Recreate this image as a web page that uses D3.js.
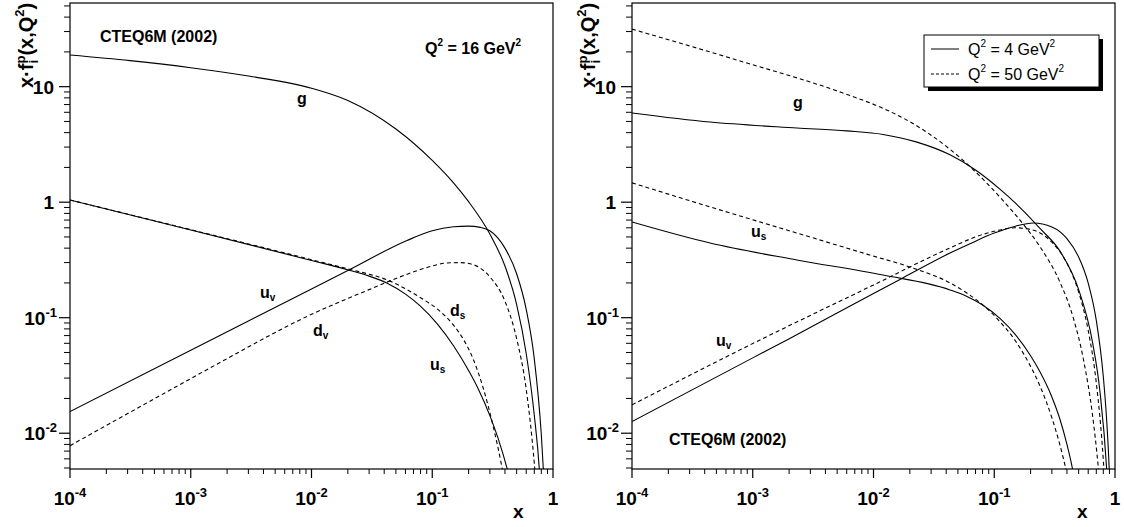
<!DOCTYPE html>
<html><head><meta charset="utf-8">
<script src="https://cdn.jsdelivr.net/npm/d3@7"></script>
<style>
body{margin:0;background:#fff}
svg{display:block}
text{font-family:"Liberation Sans",Arial,Helvetica,sans-serif;fill:#000}
</style>
</head><body>
<svg id="chart" width="1124" height="527"></svg>
<script>
// ---------- data ----------
const xDomain = [1e-4, 1];
const yDomain = [0.0049, 53];
const xMajorTicks = [1e-4, 1e-3, 1e-2, 1e-1, 1];
const xTickBase = ["10", "10", "10", "10", "1"];
const xTickExp  = ["-4", "-3", "-2", "-1", ""];
const yMajorTicks = [0.01, 0.1, 1, 10];
const yTickBase = ["10", "10", "1", "10"];
const yTickExp  = ["-2", "-1", "", ""];

// Left panel, Q^2 = 16 GeV^2
const xG16  = [1e-4, 3.14e-4, 1e-3, 3.1e-3, 0.01, 0.02, 0.05, 0.1, 0.15, 0.2, 0.3, 0.4, 0.5, 0.6, 0.7, 0.77, 0.8];
const g16   = [18.8, 16.8, 14.6, 12.3, 9.7, 7.6, 4.3, 2.30, 1.47, 1.01, 0.53, 0.28, 0.130, 0.049, 0.0143, 0.0049, 0.0024];
const xUv16 = [1e-4, 1e-3, 0.01, 0.02, 0.0618, 0.1, 0.15, 0.2, 0.25, 0.3, 0.4, 0.5, 0.6, 0.7, 0.8, 0.85];
const uv16  = [0.0154, 0.0522, 0.177, 0.256, 0.466, 0.565, 0.612, 0.621, 0.605, 0.565, 0.40, 0.24, 0.118, 0.044, 0.0098, 0.0033];
const xDv16 = [1e-4, 1e-3, 1.75e-3, 0.01, 0.03, 0.06, 0.1, 0.13, 0.17, 0.2, 0.3, 0.4, 0.5, 0.6, 0.7, 0.75];
const dv16  = [0.0078, 0.0297, 0.041, 0.107, 0.175, 0.235, 0.28, 0.297, 0.30, 0.295, 0.226, 0.139, 0.066, 0.024, 0.0055, 0.0022];
const xUs16 = [1e-4, 1e-3, 0.01, 0.0202, 0.03, 0.042, 0.06, 0.079, 0.11, 0.149, 0.2, 0.239, 0.3, 0.35, 0.42, 0.45];
const us16  = [1.045, 0.575, 0.313, 0.259, 0.229, 0.200, 0.160, 0.127, 0.0883, 0.0577, 0.0349, 0.0245, 0.0142, 0.0091, 0.0048, 0.0036];
const xDs16 = [1e-4, 1e-3, 0.01, 0.0202, 0.03, 0.042, 0.06, 0.08, 0.109, 0.149, 0.18, 0.218, 0.263, 0.32, 0.371, 0.4];
const ds16  = [1.045, 0.578, 0.318, 0.264, 0.238, 0.213, 0.178, 0.149, 0.120, 0.087, 0.0656, 0.044, 0.025, 0.0114, 0.0056, 0.0037];

// Right panel, Q^2 = 4 GeV^2 (solid) and 50 GeV^2 (dashed)
const xG4   = [1e-4, 4.43e-4, 2.32e-3, 0.006, 0.012, 0.0229, 0.043, 0.07, 0.112, 0.17, 0.239, 0.35, 0.5, 0.65, 0.75, 0.853, 0.88];
const g4    = [5.92, 4.94, 4.39, 4.14, 3.86, 3.31, 2.57, 1.90, 1.29, 0.863, 0.593, 0.377, 0.175, 0.062, 0.0231, 0.0049, 0.0027];
const xG50  = [1e-4, 7.41e-4, 5.58e-3, 0.012, 0.02, 0.043, 0.07, 0.112, 0.17, 0.239, 0.35, 0.45, 0.55, 0.65, 0.728, 0.76];
const g50   = [31.5, 17.0, 8.81, 6.49, 4.97, 2.87, 1.83, 1.10, 0.664, 0.412, 0.203, 0.1007, 0.0426, 0.0146, 0.0050, 0.0030];
const xUs4  = [1e-4, 4.43e-4, 2.32e-3, 0.012, 0.043, 0.06, 0.079, 0.112, 0.149, 0.2, 0.239, 0.3, 0.35, 0.4, 0.44, 0.46];
const us4   = [0.674, 0.443, 0.316, 0.234, 0.174, 0.152, 0.130, 0.098, 0.0717, 0.0468, 0.034, 0.0206, 0.0132, 0.0080, 0.0052, 0.0041];
const xUs50 = [1e-4, 4.43e-4, 2.03e-3, 9.3e-3, 0.0199, 0.043, 0.06, 0.079, 0.112, 0.149, 0.2, 0.239, 0.3, 0.35, 0.4];
const us50  = [1.47, 0.91, 0.564, 0.349, 0.275, 0.20, 0.162, 0.131, 0.092, 0.0635, 0.0379, 0.0257, 0.0136, 0.0079, 0.0045];
const xUv4  = [1e-4, 1e-3, 1.92e-3, 0.01, 0.0175, 0.043, 0.07, 0.1, 0.15, 0.21, 0.3, 0.4, 0.5, 0.6, 0.7, 0.8, 0.85, 0.89, 0.9];
const uv4   = [0.0126, 0.0449, 0.0642, 0.162, 0.221, 0.363, 0.46, 0.54, 0.62, 0.66, 0.61, 0.484, 0.335, 0.199, 0.0948, 0.031, 0.0138, 0.0057, 0.0043];
const xUv50 = [1e-4, 1.15e-3, 0.01, 0.043, 0.07, 0.1, 0.15, 0.2, 0.3, 0.4, 0.5, 0.6, 0.7, 0.8, 0.83];
const uv50  = [0.0176, 0.0642, 0.192, 0.402, 0.50, 0.56, 0.60, 0.58, 0.45, 0.296, 0.167, 0.0775, 0.0273, 0.0059, 0.0032];

const legendLabels = ["4", "50"];

// ---------- drawing ----------
const svg = d3.select("#chart");
const yTop = 3, yBot = 469;
const y = d3.scaleLog().domain(yDomain).range([yBot, yTop]);
const zip = (xs, ys) => xs.map((v, i) => [v, ys[i]]);

const panels = [
  { x0: 70, x1: 553, xTitle: 513, curves: [
      {d: zip(xG16, g16)}, {d: zip(xUv16, uv16)}, {d: zip(xDv16, dv16), dash: true},
      {d: zip(xUs16, us16)}, {d: zip(xDs16, ds16), dash: true}],
    labels: [
      {t: "g", s: "", x: 297, y: 104},
      {t: "u", s: "v", x: 260, y: 298},
      {t: "d", s: "v", x: 313, y: 336},
      {t: "d", s: "s", x: 450, y: 316},
      {t: "u", s: "s", x: 430, y: 370}] },
  { x0: 632, x1: 1115, xTitle: 1077, curves: [
      {d: zip(xG4, g4)}, {d: zip(xG50, g50), dash: true},
      {d: zip(xUs4, us4)}, {d: zip(xUs50, us50), dash: true},
      {d: zip(xUv4, uv4)}, {d: zip(xUv50, uv50), dash: true}],
    labels: [
      {t: "g", s: "", x: 793, y: 108},
      {t: "u", s: "s", x: 751, y: 237},
      {t: "u", s: "v", x: 716, y: 346}] }
];

function minorTicks(lo, hi) {
  const out = [];
  for (let e = Math.floor(Math.log10(lo)); e <= Math.ceil(Math.log10(hi)); e++)
    for (let m = 2; m <= 9; m++) { const v = m * Math.pow(10, e); if (v > lo && v < hi) out.push(v); }
  return out;
}

panels.forEach((p, pi) => {
  const x = d3.scaleLog().domain(xDomain).range([p.x0, p.x1]);
  const g = svg.append("g");
  const clipId = "clip" + pi;
  svg.append("clipPath").attr("id", clipId).append("rect")
    .attr("x", p.x0).attr("y", yTop).attr("width", p.x1 - p.x0).attr("height", yBot - yTop);

  // frame
  g.append("rect").attr("x", p.x0).attr("y", yTop).attr("width", p.x1 - p.x0).attr("height", yBot - yTop)
    .attr("fill", "none").attr("stroke", "#000").attr("stroke-width", 1.2);

  // x ticks
  xMajorTicks.forEach(v => g.append("line").attr("x1", x(v)).attr("x2", x(v)).attr("y1", yBot).attr("y2", yBot + 9)
    .attr("stroke", "#000").attr("stroke-width", 1.2));
  minorTicks(xDomain[0], xDomain[1]).forEach(v => g.append("line").attr("x1", x(v)).attr("x2", x(v))
    .attr("y1", yBot).attr("y2", yBot + 5).attr("stroke", "#000").attr("stroke-width", 1));
  // y ticks
  yMajorTicks.forEach(v => g.append("line").attr("x1", p.x0 - 11).attr("x2", p.x0).attr("y1", y(v)).attr("y2", y(v))
    .attr("stroke", "#000").attr("stroke-width", 1.2));
  minorTicks(yDomain[0], yDomain[1]).forEach(v => g.append("line").attr("x1", p.x0 - 6).attr("x2", p.x0)
    .attr("y1", y(v)).attr("y2", y(v)).attr("stroke", "#000").attr("stroke-width", 1));

  // x tick labels
  xMajorTicks.forEach((v, i) => {
    const t = g.append("text").attr("x", x(v)).attr("y", 505).attr("text-anchor", "middle")
      .attr("font-size", 19).attr("font-weight", "bold");
    t.append("tspan").text(xTickBase[i]);
    if (xTickExp[i]) t.append("tspan").attr("font-size", 13).attr("dy", -8).text(xTickExp[i]);
  });
  // y tick labels
  yMajorTicks.forEach((v, i) => {
    const t = g.append("text").attr("x", p.x0 - (yTickExp[i] ? 13 : 16)).attr("y", y(v) + 7).attr("text-anchor", "end")
      .attr("font-size", 19).attr("font-weight", "bold");
    t.append("tspan").text(yTickBase[i]);
    if (yTickExp[i]) t.append("tspan").attr("font-size", 13).attr("dy", -8).text(yTickExp[i]);
  });

  // axis titles
  g.append("text").attr("x", p.xTitle).attr("y", 518).attr("font-size", 19).attr("font-weight", "bold").text("x");
  const yt = g.append("text").attr("transform", `translate(${p.x0 - 37},88) rotate(-90)`)
    .attr("font-size", 20).attr("font-weight", "bold");
  yt.append("tspan").text("x\u00b7f");
  yt.append("tspan").attr("font-size", 13).attr("dy", 5).text("i");
  yt.append("tspan").attr("font-size", 13).attr("dx", -3.6).attr("dy", -13).text("p");
  yt.append("tspan").attr("dy", 8).text("(x,Q");
  yt.append("tspan").attr("font-size", 13).attr("dy", -9).text("2");
  yt.append("tspan").attr("dy", 9).text(")");

  // curves
  const line = d3.line().x(d => x(d[0])).y(d => y(d[1])).curve(d3.curveMonotoneX);
  const cg = g.append("g").attr("clip-path", `url(#${clipId})`);
  p.curves.forEach(c => cg.append("path").attr("d", line(c.d)).attr("fill", "none").attr("stroke", "#000")
    .attr("stroke-width", 1.1).attr("stroke-dasharray", c.dash ? "4,3" : null));

  // curve labels
  p.labels.forEach(l => {
    const t = g.append("text").attr("x", l.x).attr("y", l.y).attr("font-size", 16).attr("font-weight", "bold");
    t.append("tspan").text(l.t);
    if (l.s) t.append("tspan").attr("font-size", 10).attr("dy", 3).text(l.s);
  });
});

// panel annotations
svg.append("text").attr("x", 100).attr("y", 42).attr("font-size", 16).attr("font-weight", "bold").text("CTEQ6M (2002)");
svg.append("text").attr("x", 669).attr("y", 445).attr("font-size", 16).attr("font-weight", "bold").text("CTEQ6M (2002)");
{
  const t = svg.append("text").attr("x", 425).attr("y", 54).attr("font-size", 16).attr("font-weight", "bold");
  t.append("tspan").text("Q");
  t.append("tspan").attr("font-size", 10).attr("dy", -8).text("2");
  t.append("tspan").attr("dy", 8).text(" = 16 GeV");
  t.append("tspan").attr("font-size", 10).attr("dy", -8).text("2");
}

// legend
const lg = svg.append("g");
lg.append("rect").attr("x", 928).attr("y", 39).attr("width", 175).attr("height", 52).attr("fill", "#000");
lg.append("rect").attr("x", 924).attr("y", 35).attr("width", 175).attr("height", 52).attr("fill", "#fff")
  .attr("stroke", "#000").attr("stroke-width", 1);
legendLabels.forEach((q, i) => {
  const yy = 49 + i * 25;
  lg.append("line").attr("x1", 931).attr("x2", 959).attr("y1", yy).attr("y2", yy).attr("stroke", "#000")
    .attr("stroke-width", 1).attr("stroke-dasharray", i ? "3,2" : null);
  const t = lg.append("text").attr("x", 968).attr("y", yy + 6).attr("font-size", 16);
  t.append("tspan").text("Q");
  t.append("tspan").attr("font-size", 10).attr("dy", -8).text("2");
  t.append("tspan").attr("dy", 8).text(` = ${q} GeV`);
  t.append("tspan").attr("font-size", 10).attr("dy", -8).text("2");
});
</script>
</body></html>
